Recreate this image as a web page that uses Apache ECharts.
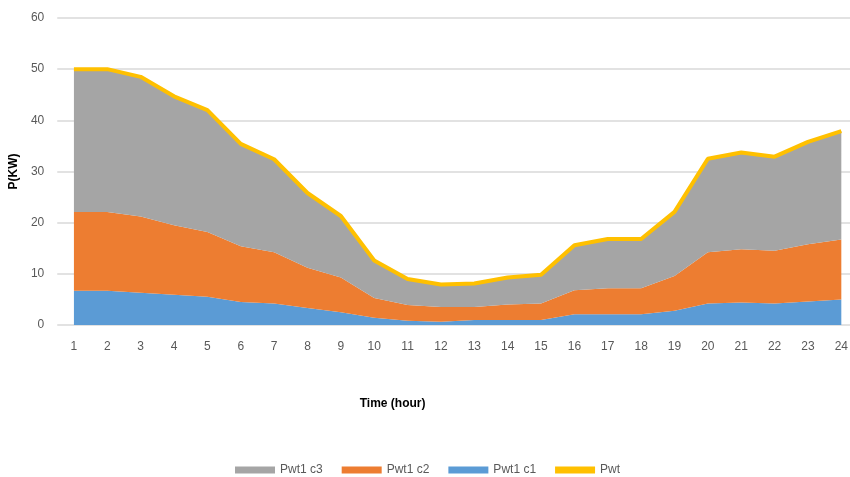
<!DOCTYPE html>
<html><head><meta charset="utf-8">
<script src="https://cdn.jsdelivr.net/npm/echarts@6/dist/echarts.min.js"></script>
<style>html,body{margin:0;padding:0;background:#fff;overflow:hidden;width:850px;height:477px}#c{width:866px;height:477px}</style>
</head><body><div id="c"></div>
<script>
const hours = ['1','2','3','4','5','6','7','8','9','10','11','12','13','14','15','16','17','18','19','20','21','22','23','24'];
const yTicks = [0,10,20,30,40,50,60];
// component values (stacked)
const pwt1c1 = [6.7,6.7,6.3,5.9,5.5,4.5,4.2,3.3,2.5,1.4,0.85,0.65,1.0,1.0,1.0,2.1,2.1,2.1,2.8,4.2,4.4,4.2,4.6,5.0];
const pwt1c2 = [15.4,15.4,14.9,13.6,12.7,10.9,10.0,7.9,6.8,3.9,3.05,2.85,2.5,3.0,3.2,4.7,5.1,5.1,6.8,10.0,10.4,10.3,11.2,11.7];
const pwt1c3 = [27.9,27.9,27.3,25.2,23.8,20.0,18.2,14.6,12.0,7.3,5.1,4.4,4.6,5.3,5.6,8.8,9.6,9.6,12.5,18.3,18.9,18.4,20.0,21.2];
const pwt = [50.0,50.0,48.5,44.7,42.0,35.4,32.4,25.8,21.3,12.6,9.0,7.9,8.1,9.3,9.8,15.6,16.8,16.8,22.1,32.5,33.7,32.9,35.8,37.9];

const chart = echarts.init(document.getElementById('c'));
const txt = '#595959';
chart.setOption({
  animation: false,
  textStyle: {fontFamily: 'Liberation Sans, sans-serif'},
  grid: {left: 52, right: 8, top: 18, bottom: 152},
  legend: {
    top: 459, left: 230, itemGap: 19, itemWidth: 40, itemHeight: 7,
    textStyle: {color: txt, fontSize: 12},
    data: [
      {name: 'Pwt1 c3', icon: 'rect'},
      {name: 'Pwt1 c2', icon: 'rect'},
      {name: 'Pwt1 c1', icon: 'rect'},
      {name: 'Pwt', icon: 'rect', itemStyle: {color: '#FFC000'}}
    ]
  },
  xAxis: {
    type: 'category', data: hours, boundaryGap: true,
    name: 'Time (hour)', nameLocation: 'middle', nameGap: 73,
    nameTextStyle: {color: '#000', fontWeight: 'bold', fontSize: 12, padding: [0, 130, 0, 0]},
    axisLine: {show: false}, axisTick: {show: false},
    axisLabel: {color: txt, fontSize: 12, margin: 16}
  },
  yAxis: {
    type: 'value', min: 0, max: 60, interval: 10,
    name: 'P(KW)', nameLocation: 'middle', nameGap: 32, nameRotate: 90,
    nameTextStyle: {color: '#000', fontWeight: 'bold', fontSize: 12},
    axisLabel: {color: txt, fontSize: 12, margin: 13},
    splitLine: {lineStyle: {color: '#d9d9d9', width: 1.5}}
  },
  series: [
    {name: 'Pwt1 c1', type: 'line', stack: 'p', data: pwt1c1, symbol: 'none',
     lineStyle: {width: 0}, areaStyle: {color: '#5B9BD5', opacity: 1}, itemStyle: {color: '#5B9BD5'}},
    {name: 'Pwt1 c2', type: 'line', stack: 'p', data: pwt1c2, symbol: 'none',
     lineStyle: {width: 0}, areaStyle: {color: '#ED7D31', opacity: 1}, itemStyle: {color: '#ED7D31'}},
    {name: 'Pwt1 c3', type: 'line', stack: 'p', data: pwt1c3, symbol: 'none',
     lineStyle: {width: 0}, areaStyle: {color: '#A5A5A5', opacity: 1}, itemStyle: {color: '#A5A5A5'}},
    {name: 'Pwt', type: 'line', data: pwt, symbol: 'none',
     lineStyle: {width: 4, color: '#FFC000'}, itemStyle: {color: '#FFC000'}}
  ]
});
</script></body></html>
